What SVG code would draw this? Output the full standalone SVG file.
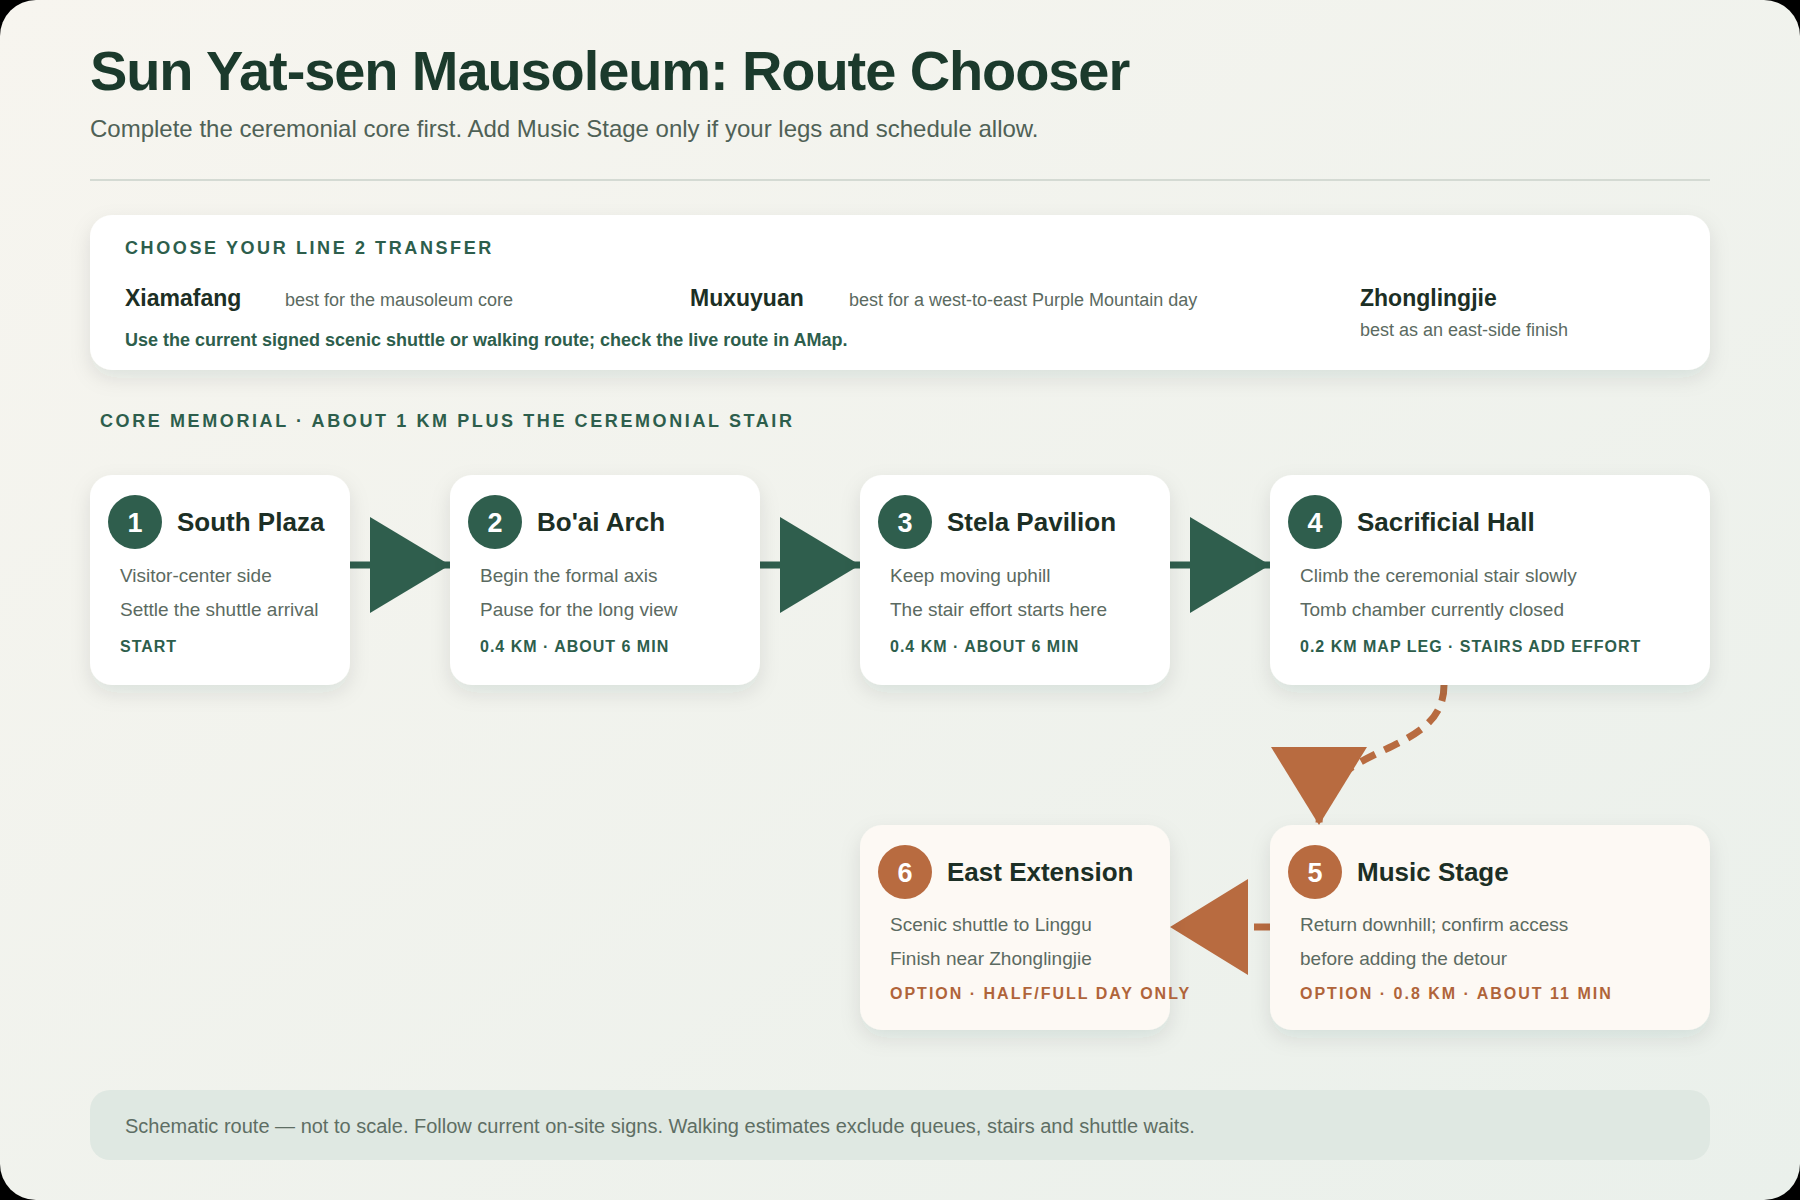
<svg xmlns="http://www.w3.org/2000/svg" width="1800" height="1200" viewBox="0 0 1800 1200">
<defs>
  <linearGradient id="bg" x1="0" y1="0" x2="1" y2="1">
    <stop offset="0" stop-color="#f7f5ef"/>
    <stop offset="1" stop-color="#eaf0eb"/>
  </linearGradient>
  <filter id="shadow" x="-10%" y="-15%" width="120%" height="145%">
    <feDropShadow dx="0" dy="8" stdDeviation="10" flood-color="#20402f" flood-opacity="0.10"/>
  </filter>
  <marker id="arrowG" markerUnits="userSpaceOnUse" markerWidth="80" markerHeight="96" viewBox="0 0 80 96" refX="80" refY="48" orient="auto">
    <path d="M0,0 L80,48 L0,96 z" fill="#2f5e4d"/>
  </marker>
  <marker id="arrowO" markerUnits="userSpaceOnUse" markerWidth="78" markerHeight="96" viewBox="0 0 78 96" refX="78" refY="48" orient="auto">
    <path d="M0,0 L78,48 L0,96 z" fill="#b86b40"/>
  </marker>
</defs>
<style>
  text { font-family: "Liberation Sans", Arial, Helvetica, sans-serif; }
  .h1 { font-size: 56px; font-weight: bold; fill: #1b3a2c; letter-spacing: -1.1px; }
  .sub { font-size: 24px; fill: #4f6156; }
  .label { font-size: 18px; font-weight: bold; fill: #2d5e4c; letter-spacing: 2.6px; }
  .stn { font-size: 23px; font-weight: bold; fill: #1c2f25; }
  .sdesc { font-size: 18px; fill: #5b6a61; }
  .note { font-size: 18px; font-weight: bold; fill: #2d5e4c; }
  .card { fill: #ffffff; filter: url(#shadow); }
  .cardO { fill: #fdf9f4; filter: url(#shadow); }
  .circG { fill: #2f5e4d; }
  .circO { fill: #b86b40; }
  .num { font-size: 27px; font-weight: bold; fill: #ffffff; text-anchor: middle; }
  .ttl { font-size: 26px; font-weight: bold; fill: #1c2f25; }
  .desc { font-size: 19px; fill: #5b6a61; }
  .metaG { font-size: 16px; font-weight: bold; fill: #2d5e4c; letter-spacing: 1px; }
  .metaO { font-size: 16px; font-weight: bold; fill: #b0643a; letter-spacing: 2px; }
  .connG { fill: none; stroke: #2f5e4d; stroke-width: 7; marker-end: url(#arrowG); }
  .connO { fill: none; stroke: #b86b40; stroke-width: 7; stroke-dasharray: 16 10; marker-end: url(#arrowO); }
  .foot { font-size: 20px; fill: #5e6e64; }
</style>

<rect x="0" y="0" width="1800" height="1200" fill="#000000"/>
<rect x="0" y="0" width="1800" height="1200" rx="36" fill="url(#bg)"/>

<g id="header">
  <text class="h1" x="90" y="90">Sun Yat-sen Mausoleum: Route Chooser</text>
  <text class="sub" x="90" y="137">Complete the ceremonial core first. Add Music Stage only if your legs and schedule allow.</text>
  <line x1="90" y1="180" x2="1710" y2="180" stroke="#d4dad3" stroke-width="2"/>
</g>

<g id="transfer">
  <rect class="card" x="90" y="215" width="1620" height="155" rx="22"/>
  <text class="label" x="125" y="254">CHOOSE YOUR LINE 2 TRANSFER</text>
  <text class="stn" x="125" y="306">Xiamafang</text>
  <text class="sdesc" x="285" y="306">best for the mausoleum core</text>
  <text class="stn" x="690" y="306">Muxuyuan</text>
  <text class="sdesc" x="849" y="306">best for a west-to-east Purple Mountain day</text>
  <text class="stn" x="1360" y="306">Zhonglingjie</text>
  <text class="sdesc" x="1360" y="336">best as an east-side finish</text>
  <text class="note" x="125" y="346">Use the current signed scenic shuttle or walking route; check the live route in AMap.</text>
</g>

<text id="core-label" class="label" x="100" y="427">CORE MEMORIAL · ABOUT 1 KM PLUS THE CEREMONIAL STAIR</text>

<g id="connectors">
  <path class="connG" d="M350 565 L450 565"/>
  <path class="connG" d="M760 565 L860 565"/>
  <path class="connG" d="M1170 565 L1270 565"/>
  <path class="connO" d="M1444 685 C1444 760 1319 740 1319 825"/>
  <path class="connO" d="M1270 927 L1170 927"/>
</g>

<g id="node1">
  <rect class="card" x="90" y="475" width="260" height="210" rx="22"/>
  <circle class="circG" cx="135" cy="522" r="27"/>
  <text class="num" x="135" y="532">1</text>
  <text class="ttl" x="177" y="531">South Plaza</text>
  <text class="desc" x="120" y="582">Visitor-center side</text>
  <text class="desc" x="120" y="616">Settle the shuttle arrival</text>
  <text class="metaG" x="120" y="652">START</text>
</g>

<g id="node2">
  <rect class="card" x="450" y="475" width="310" height="210" rx="22"/>
  <circle class="circG" cx="495" cy="522" r="27"/>
  <text class="num" x="495" y="532">2</text>
  <text class="ttl" x="537" y="531">Bo'ai Arch</text>
  <text class="desc" x="480" y="582">Begin the formal axis</text>
  <text class="desc" x="480" y="616">Pause for the long view</text>
  <text class="metaG" x="480" y="652">0.4 KM · ABOUT 6 MIN</text>
</g>

<g id="node3">
  <rect class="card" x="860" y="475" width="310" height="210" rx="22"/>
  <circle class="circG" cx="905" cy="522" r="27"/>
  <text class="num" x="905" y="532">3</text>
  <text class="ttl" x="947" y="531">Stela Pavilion</text>
  <text class="desc" x="890" y="582">Keep moving uphill</text>
  <text class="desc" x="890" y="616">The stair effort starts here</text>
  <text class="metaG" x="890" y="652">0.4 KM · ABOUT 6 MIN</text>
</g>

<g id="node4">
  <rect class="card" x="1270" y="475" width="440" height="210" rx="22"/>
  <circle class="circG" cx="1315" cy="522" r="27"/>
  <text class="num" x="1315" y="532">4</text>
  <text class="ttl" x="1357" y="531">Sacrificial Hall</text>
  <text class="desc" x="1300" y="582">Climb the ceremonial stair slowly</text>
  <text class="desc" x="1300" y="616">Tomb chamber currently closed</text>
  <text class="metaG" x="1300" y="652">0.2 KM MAP LEG · STAIRS ADD EFFORT</text>
</g>

<g id="node5">
  <rect class="cardO" x="1270" y="825" width="440" height="205" rx="22"/>
  <circle class="circO" cx="1315" cy="872" r="27"/>
  <text class="num" x="1315" y="882">5</text>
  <text class="ttl" x="1357" y="881">Music Stage</text>
  <text class="desc" x="1300" y="931">Return downhill; confirm access</text>
  <text class="desc" x="1300" y="965">before adding the detour</text>
  <text class="metaO" x="1300" y="999">OPTION · 0.8 KM · ABOUT 11 MIN</text>
</g>

<g id="node6">
  <rect class="cardO" x="860" y="825" width="310" height="205" rx="22"/>
  <circle class="circO" cx="905" cy="872" r="27"/>
  <text class="num" x="905" y="882">6</text>
  <text class="ttl" x="947" y="881">East Extension</text>
  <text class="desc" x="890" y="931">Scenic shuttle to Linggu</text>
  <text class="desc" x="890" y="965">Finish near Zhonglingjie</text>
  <text class="metaO" x="890" y="999">OPTION · HALF/FULL DAY ONLY</text>
</g>

<g id="footer">
  <rect x="90" y="1090" width="1620" height="70" rx="20" fill="#dfe8e2"/>
  <text class="foot" x="125" y="1133">Schematic route — not to scale. Follow current on-site signs. Walking estimates exclude queues, stairs and shuttle waits.</text>
</g>
</svg>
